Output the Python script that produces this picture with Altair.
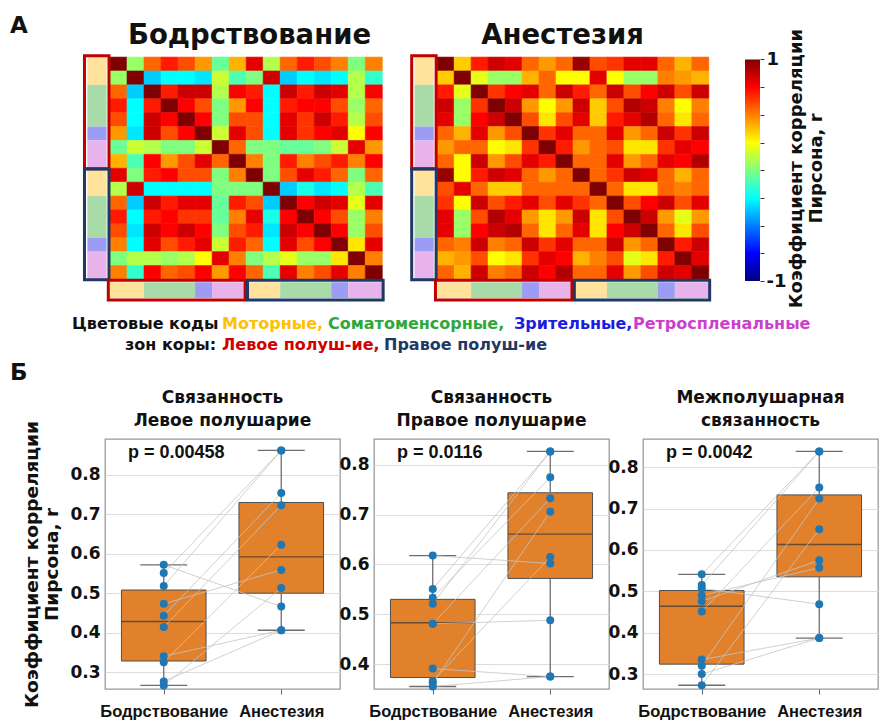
import altair as alt
import pandas as pd

FONT = "DejaVu Sans"
FONT2 = "Liberation Sans"
N = 16

# ---------------- data: correlation matrices (upper triangles, row i -> cols i+1..15) -------------
awake_upper = [
    [0.05, 0.55, 0.70, 0.60, 0.45, -0.05, 0.40, 0.80, 0.10, 0.55, 0.70, 0.60, 0.50, 0.00, 0.50],
    [-0.35, -0.25, -0.25, -0.30, 0.15, -0.10, 0.00, 0.85, -0.35, -0.25, -0.30, -0.25, 0.10, -0.15],
    [0.70, 0.85, 0.85, 0.10, 0.75, 0.70, -0.25, 0.85, 0.70, 0.85, 0.80, 0.10, 0.75],
    [0.75, 0.60, 0.00, 0.45, 0.75, -0.25, 0.70, 0.75, 0.75, 0.60, 0.05, 0.55],
    [0.75, 0.00, 0.60, 0.60, -0.25, 0.80, 0.65, 0.85, 0.70, 0.10, 0.60],
    [0.15, 0.80, 0.60, -0.25, 0.80, 0.65, 0.75, 0.80, 0.25, 0.75],
    [0.55, 0.00, 0.00, -0.05, -0.05, 0.00, 0.15, 0.80, 0.45],
    [0.50, 0.00, 0.70, 0.50, 0.60, 0.70, 0.50, 0.75],
    [0.00, 0.60, 0.80, 0.70, 0.55, 0.00, 0.55],
    [-0.35, -0.20, -0.30, -0.25, 0.10, -0.10],
    [0.75, 0.85, 0.80, 0.20, 0.80],
    [0.75, 0.60, 0.05, 0.50],
    [0.75, 0.05, 0.60],
    [0.30, 0.80],
    [0.50],
]
anest_upper = [
    [0.35, 0.70, 0.85, 0.80, 0.55, 0.45, 0.55, 0.95, 0.60, 0.65, 0.80, 0.80, 0.55, 0.40, 0.55],
    [0.20, 0.05, 0.05, 0.40, 0.55, 0.25, 0.25, 0.80, 0.25, 0.05, 0.05, 0.50, 0.45, 0.40],
    [0.65, 0.75, 0.80, 0.55, 0.85, 0.70, 0.55, 0.85, 0.60, 0.75, 0.85, 0.60, 0.85],
    [0.85, 0.45, 0.25, 0.45, 0.85, 0.35, 0.60, 0.90, 0.85, 0.50, 0.25, 0.50],
    [0.60, 0.30, 0.60, 0.80, 0.35, 0.70, 0.80, 0.90, 0.55, 0.30, 0.55],
    [0.65, 0.80, 0.55, 0.55, 0.80, 0.45, 0.55, 0.85, 0.65, 0.85],
    [0.70, 0.45, 0.55, 0.60, 0.30, 0.30, 0.65, 0.80, 0.75],
    [0.55, 0.55, 0.80, 0.45, 0.55, 0.80, 0.75, 0.90],
    [0.55, 0.65, 0.85, 0.80, 0.55, 0.40, 0.55],
    [0.55, 0.30, 0.30, 0.55, 0.50, 0.55],
    [0.60, 0.75, 0.85, 0.60, 0.80],
    [0.85, 0.45, 0.20, 0.45],
    [0.55, 0.30, 0.60],
    [0.70, 0.85],
    [0.80],
]

# cortical zones per hemisphere
zone_names = ["Моторные", "Соматоменсорные", "Зрительные", "Ретроспленальные"]
zone_sizes = [2, 3, 1, 2]
zone_colors = ["#FFE29C", "#A8DBA8", "#9C9CF4", "#E8B2EA"]
hemi_names = ["Левое", "Правое"]
hemi_colors = ["#C00000", "#1F3864"]

# jet colour map stops
cmap_values = [-1.0, -0.75, -0.25, 0.0, 0.25, 0.75, 1.0]
cmap_colors = ["#00007F", "#0000FF", "#00FFFF", "#7FFF7F", "#FFFF00", "#FF0000", "#7F0000"]

# ---------------- data: box plots ----------------
conditions = ["Бодрствование", "Анестезия"]
panel_titles = [["Связанность", "Левое полушарие"],
                ["Связанность", "Правое полушарие"],
                ["Межполушарная", "связанность"]]
p_values = ["p = 0.00458", "p = 0.0116", "p = 0.0042"]
awake_vals = [
    [0.572, 0.551, 0.518, 0.473, 0.443, 0.414, 0.340, 0.325, 0.276, 0.266],
    [0.618, 0.551, 0.533, 0.521, 0.481, 0.481, 0.391, 0.366, 0.362, 0.355],
    [0.541, 0.515, 0.507, 0.490, 0.476, 0.451, 0.335, 0.320, 0.300, 0.273],
]
anest_vals = [
    [0.466, 0.862, 0.862, 0.559, 0.754, 0.723, 0.406, 0.623, 0.406, 0.513],
    [0.602, 0.827, 0.775, 0.827, 0.488, 0.733, 0.375, 0.615, 0.706, 0.375],
    [0.838, 0.838, 0.469, 0.557, 0.575, 0.751, 0.387, 0.724, 0.387, 0.650],
]
# box statistics [low, q1, median, q3, high] for (awake, anaesthesia)
box_awake = [[0.266, 0.328, 0.428, 0.508, 0.572],
             [0.355, 0.373, 0.483, 0.530, 0.618],
             [0.273, 0.324, 0.464, 0.502, 0.541]]
box_anest = [[0.406, 0.500, 0.592, 0.730, 0.862],
             [0.375, 0.572, 0.661, 0.744, 0.827],
             [0.387, 0.535, 0.613, 0.733, 0.838]]
y_domains = [[0.257, 0.891], [0.350, 0.852], [0.264, 0.868]]
y_ticks = [[0.3, 0.4, 0.5, 0.6, 0.7, 0.8], [0.4, 0.5, 0.6, 0.7, 0.8], [0.3, 0.4, 0.5, 0.6, 0.7, 0.8]]

# legend text lines
line1_words = ["Цветовые коды", "Моторные,", "Соматоменсорные,", "Зрительные,", "Ретроспленальные"]
line1_colors = ["#111111", "#FFC000", "#2EA83A", "#1C1CE0", "#CC3FCC"]
line2_words = ["зон коры:", "Левое полуш-ие,", "Правое полуш-ие"]
line2_colors = ["#111111", "#D00000", "#1F3864"]

NOSTROKE = alt.ViewBackground(stroke="transparent", strokeWidth=0)


# ---------------- helpers ----------------
def full_matrix(upper):
    m = [[1.0] * N for _ in range(N)]
    for i, row in enumerate(upper):
        for k, v in enumerate(row):
            j = i + 1 + k
            m[i][j] = v
            m[j][i] = v
    return m


cscale = alt.Scale(domain=cmap_values, range=cmap_colors, interpolate="rgb")
hemi_scale = alt.Scale(domain=hemi_names, range=hemi_colors)
zone_scale = alt.Scale(domain=zone_names, range=zone_colors)

segs = []
for h, hname in enumerate(hemi_names):
    s = h * 8
    for name, size in zip(zone_names, zone_sizes):
        segs.append({"zone": name, "hemi": hname, "s": s, "e": s + size})
        s += size
seg_df = pd.DataFrame(segs)
hemi_df = pd.DataFrame({"hemi": hemi_names, "start": [0, 8], "end": [8, 16]})


def heatmap(upper, title, xmin, xmax, width, tdx):
    M = full_matrix(upper)
    df = pd.DataFrame([{"row": i, "col": j, "r": M[i][j]} for i in range(N) for j in range(N)])
    xs = alt.Scale(domain=[xmin, xmax], nice=False, zero=False)
    ys = alt.Scale(domain=[-0.15, 17.55], nice=False, zero=False, reverse=True)
    cells = alt.Chart(df).transform_calculate(c1="datum.col + 1", r1="datum.row + 1").mark_rect(
        strokeWidth=0.6).encode(
        x=alt.X("col:Q", scale=xs, axis=None), x2="c1:Q",
        y=alt.Y("row:Q", scale=ys, axis=None), y2="r1:Q",
        color=alt.Color("r:Q", scale=cscale, legend=None),
        stroke=alt.Stroke("r:Q", scale=cscale, legend=None))
    side = alt.Chart(seg_df).mark_rect().encode(
        x=alt.datum(-1.33), x2=alt.datum(-0.2), y=alt.Y("s:Q"), y2="e:Q",
        color=alt.Color("zone:N", scale=zone_scale, legend=None))
    bottom = alt.Chart(seg_df).mark_rect().encode(
        x=alt.X("s:Q"), x2="e:Q", y=alt.datum(16.2), y2=alt.datum(17.33),
        color=alt.Color("zone:N", scale=zone_scale, legend=None))
    side_box = alt.Chart(hemi_df).transform_calculate(
        y0="datum.start == 0 ? -0.1 : datum.start + 0.05", y1="datum.end + 0.03").mark_rect(
        filled=False, strokeWidth=3).encode(
        x=alt.datum(-1.5), x2=alt.datum(-0.06), y=alt.Y("y0:Q"), y2="y1:Q",
        stroke=alt.Stroke("hemi:N", scale=hemi_scale, legend=None))
    bottom_box = alt.Chart(hemi_df).transform_calculate(
        x0="datum.start == 0 ? -0.1 : datum.start + 0.08", x1="datum.end == 16 ? 16.05 : datum.end - 0.06"
    ).mark_rect(filled=False, strokeWidth=3).encode(
        x=alt.X("x0:Q"), x2="x1:Q", y=alt.datum(16.05), y2=alt.datum(17.47),
        stroke=alt.Stroke("hemi:N", scale=hemi_scale, legend=None))
    return alt.layer(cells, side, bottom, side_box, bottom_box).resolve_scale(
        color="independent").properties(
        width=width, height=246, view=NOSTROKE,
        title=alt.TitleParams(title, fontSize=27.5, fontWeight="bold", font=FONT, color="#111",
                              offset=5, dx=tdx))


h1 = heatmap(awake_upper, "Бодрствование", -0.294, 16.1, 279, 5)
h2 = heatmap(anest_upper, "Анестезия", -1.6, 16.6, 309, -2)

stops = [alt.GradientStop(color=c, offset=(v + 1) / 2) for v, c in zip(cmap_values, cmap_colors)]
cbar = alt.Chart(pd.DataFrame({"hi": [1.0], "lo": [-1.0]})).mark_rect(
    color=alt.LinearGradient(gradient="linear", stops=stops, x1=0, x2=0, y1=1, y2=0)
).encode(
    x=alt.value(0), x2=alt.value(15),
    y=alt.Y("hi:Q", scale=alt.Scale(domain=[-1, 1.04], nice=False, zero=False),
            axis=alt.Axis(orient="right", values=[-1, -0.75, -0.5, -0.25, 0, 0.25, 0.5, 0.75, 1],
                          labelExpr="datum.value == 1 ? '1' : (datum.value == -1 ? '-1' : '')",
                          domain=False, grid=False, tickSize=4, tickColor="#333",
                          labelFontSize=18, labelFontWeight="bold", labelFont=FONT, labelColor="#111",
                          labelPadding=2,
                          title=["Коэффициент корреляции", "Пирсона, r"], titleAngle=270,
                          titleFontSize=18, titleFontWeight="bold", titleFont=FONT, titleColor="#111",
                          titlePadding=0)),
    y2="lo:Q",
).properties(width=15, height=226, view=NOSTROKE)

row1 = alt.hconcat(h1, h2, cbar, spacing=26, bounds="flush")

# ---------------- legend rows + panel letter ----------------
LINE1_X = [-33, 117, 223, 409, 528]
LINE2_X = [20, 117, 279]
leg_layers = []
for words, colors, xs, yb in [(line1_words, line1_colors, LINE1_X, 21),
                              (line2_words, line2_colors, LINE2_X, 42)]:
    for w, c, xp in zip(words, colors, xs):
        leg_layers.append(alt.Chart(pd.DataFrame({"t": [w]})).mark_text(
            align="left", baseline="alphabetic", fontSize=16, fontWeight="bold", font=FONT, color=c
        ).encode(text="t:N", x=alt.value(xp), y=alt.value(yb)))
leg_layers.append(alt.Chart(pd.DataFrame({"t": ["Б"]})).mark_text(
    align="left", baseline="alphabetic", fontSize=23, fontWeight="bold", font=FONT, color="#111"
).encode(text="t:N", x=alt.value(-95), y=alt.value(72)))
row2 = alt.layer(*leg_layers).properties(width=700, height=80, view=NOSTROKE)

# ---------------- box plot panels ----------------
ORANGE = "#E1812C"


def panel(k):
    pts = []
    for i, (a, b) in enumerate(zip(awake_vals[k], anest_vals[k])):
        pts.append({"subj": i, "cond": 0, "v": a})
        pts.append({"subj": i, "cond": 1, "v": b})
    pts = pd.DataFrame(pts)
    st = pd.DataFrame([dict(zip(["lo", "q1", "med", "q3", "hi"], b), cond=c)
                       for c, b in enumerate([box_awake[k], box_anest[k]])])
    xs = alt.Scale(domain=[-0.5, 1.5], nice=False, zero=False)
    ys = alt.Scale(domain=y_domains[k], nice=False, zero=False)
    xaxis = alt.Axis(values=[0, 1], labelExpr="datum.value == 0 ? '%s' : '%s'" % tuple(conditions),
                     grid=False, domain=False, tickSize=5, tickColor="#666", labelFlush=False,
                     labelOverlap=False, labelFontSize=16.5, labelFontWeight="bold", labelFont=FONT2,
                     labelColor="#111", labelPadding=9, title=None)
    ytitle = ["Коэффициент корреляции", "Пирсона, r"] if k == 0 else None
    yaxis = alt.Axis(values=y_ticks[k], format=".1f", grid=True, gridColor="#dddddd", domain=False,
                     tickSize=0, labelFontSize=17, labelFontWeight="bold", labelFont=FONT,
                     labelColor="#111", labelPadding=5, title=ytitle, titleFontSize=18.5,
                     titleFontWeight="bold", titleFont=FONT, titleColor="#111", titlePadding=8)

    def X(f):
        return alt.X(f, scale=xs, axis=xaxis)

    def Y(f):
        return alt.Y(f, scale=ys, axis=yaxis)

    sb = alt.Chart(st).transform_calculate(xl="datum.cond - 0.36", xr="datum.cond + 0.36",
                                           cl="datum.cond - 0.2", cr="datum.cond + 0.2")
    box = sb.mark_rect(fill=ORANGE, stroke="#4f4f4f", strokeWidth=1).encode(
        x=X("xl:Q"), x2="xr:Q", y=Y("q1:Q"), y2="q3:Q")
    w_lo = sb.mark_rule(color="#6e6e6e", strokeWidth=1.3).encode(x=X("cond:Q"), y=Y("lo:Q"), y2="q1:Q")
    w_hi = sb.mark_rule(color="#6e6e6e", strokeWidth=1.3).encode(x=X("cond:Q"), y=Y("q3:Q"), y2="hi:Q")
    c_lo = sb.mark_rule(color="#6e6e6e", strokeWidth=1.3).encode(x=X("cl:Q"), x2="cr:Q", y=Y("lo:Q"))
    c_hi = sb.mark_rule(color="#6e6e6e", strokeWidth=1.3).encode(x=X("cl:Q"), x2="cr:Q", y=Y("hi:Q"))
    med = sb.mark_rule(color="#6a4b30", strokeWidth=1.4).encode(x=X("xl:Q"), x2="xr:Q", y=Y("med:Q"))
    lines = alt.Chart(pts).mark_line(color="#c4c4c4", strokeWidth=1, opacity=0.8).encode(
        x=X("cond:Q"), y=Y("v:Q"), detail="subj:N")
    dots = alt.Chart(pts).mark_circle(size=64, color="#1F77B4", opacity=1).encode(
        x=X("cond:Q"), y=Y("v:Q"))
    ptxt = alt.Chart(pd.DataFrame({"t": [p_values[k]]})).mark_text(
        align="left", baseline="middle", fontSize=18, fontWeight="bold", font=FONT2, color="#111"
    ).encode(text="t:N", x=alt.value(23), y=alt.value(14))
    return alt.layer(box, w_lo, w_hi, c_lo, c_hi, med, lines, dots, ptxt).properties(
        width=235, height=250,
        view=alt.ViewBackground(stroke="#9a9a9a", strokeWidth=1.3),
        title=alt.TitleParams(panel_titles[k], fontSize=17, fontWeight="bold", font=FONT,
                              color="#111", lineHeight=23, offset=(9 - 18.5) if k == 0 else 9))


row3 = alt.hconcat(panel(0), panel(1), panel(2), spacing=34, bounds="flush")

chart = alt.vconcat(row1, row2, row3, spacing=0).properties(
    title=alt.TitleParams("А", anchor="start", fontSize=23, fontWeight="bold", font=FONT,
                          color="#111", offset=-16),
    padding={"left": 2, "top": 6, "right": 2, "bottom": 0}
).configure_view(stroke="transparent", strokeWidth=0)

chart.save("out.html", embed_options={"renderer": "svg", "actions": False})
